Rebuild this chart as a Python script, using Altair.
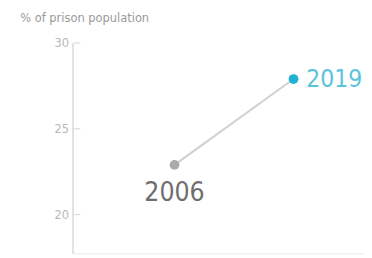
import altair as alt
import pandas as pd

years = [2006, 2019]
values = [22.9, 27.9]
labels = ["2006", "2019"]
colors = ["#aaaaaa", "#1fb3d1"]
label_colors = ["#6e6e6e", "#5cc4da"]
tick_values = [20, 25, 30]

df = pd.DataFrame({"year": years, "value": values, "label": labels,
                   "color": colors, "lcolor": label_colors})
ticks_df = pd.DataFrame({"value": tick_values})

FONT = "DejaVu Sans Condensed"

x = alt.X("year:Q", scale=alt.Scale(domain=[1994.86, 2026.7], nice=False, zero=False),
          axis=alt.Axis(labels=False, ticks=False, grid=False, title=None,
                        domainColor="#efefef", domainWidth=1.5))
yscale = alt.Scale(domain=[17.75, 30], nice=False, zero=False)
y = alt.Y("value:Q", scale=yscale,
          axis=alt.Axis(values=tick_values, grid=False, title="% of prison population",
                        titleAngle=0, titleAlign="left", titleBaseline="alphabetic",
                        titleX=-54, titleY=-22, titleFont=FONT, titleFontSize=13,
                        titleFontWeight="normal", titleColor="#9a9a9a",
                        labelFont=FONT, labelFontSize=13, labelColor="#b8b8b8",
                        labelPadding=4, ticks=False,
                        domainColor="#e2e2e2", domainWidth=2))

tickrules = alt.Chart(ticks_df).mark_rule(color="#d3d3d3", strokeWidth=1).encode(
    y=alt.Y("value:Q", scale=yscale), x=alt.value(1), x2=alt.value(8))

base = alt.Chart(df)
line = base.mark_line(color="#d0d0d0", strokeWidth=2).encode(x=x, y=y)
pts = base.mark_circle(size=100, opacity=1).encode(
    x=x, y=y, color=alt.Color("color:N", scale=None))

lab06 = alt.Chart(df[df.year == 2006]).mark_text(
    font=FONT, fontSize=27, align="center", baseline="top", dy=16
).encode(x=x, y=y, text="label:N", color=alt.Color("lcolor:N", scale=None))

lab19 = alt.Chart(df[df.year == 2019]).mark_text(
    font=FONT, fontSize=25, align="left", baseline="middle", dx=13, dy=0
).encode(x=x, y=y, text="label:N", color=alt.Color("lcolor:N", scale=None))

chart = (line + tickrules + pts + lab06 + lab19).properties(
    width=298, height=215,
    autosize=alt.AutoSizeParams(type="none"),
    padding={"left": 66, "top": 33, "right": 0, "bottom": 0},
).configure_view(stroke=None)

chart.save("out.html", embed_options={"renderer": "svg", "actions": False})
